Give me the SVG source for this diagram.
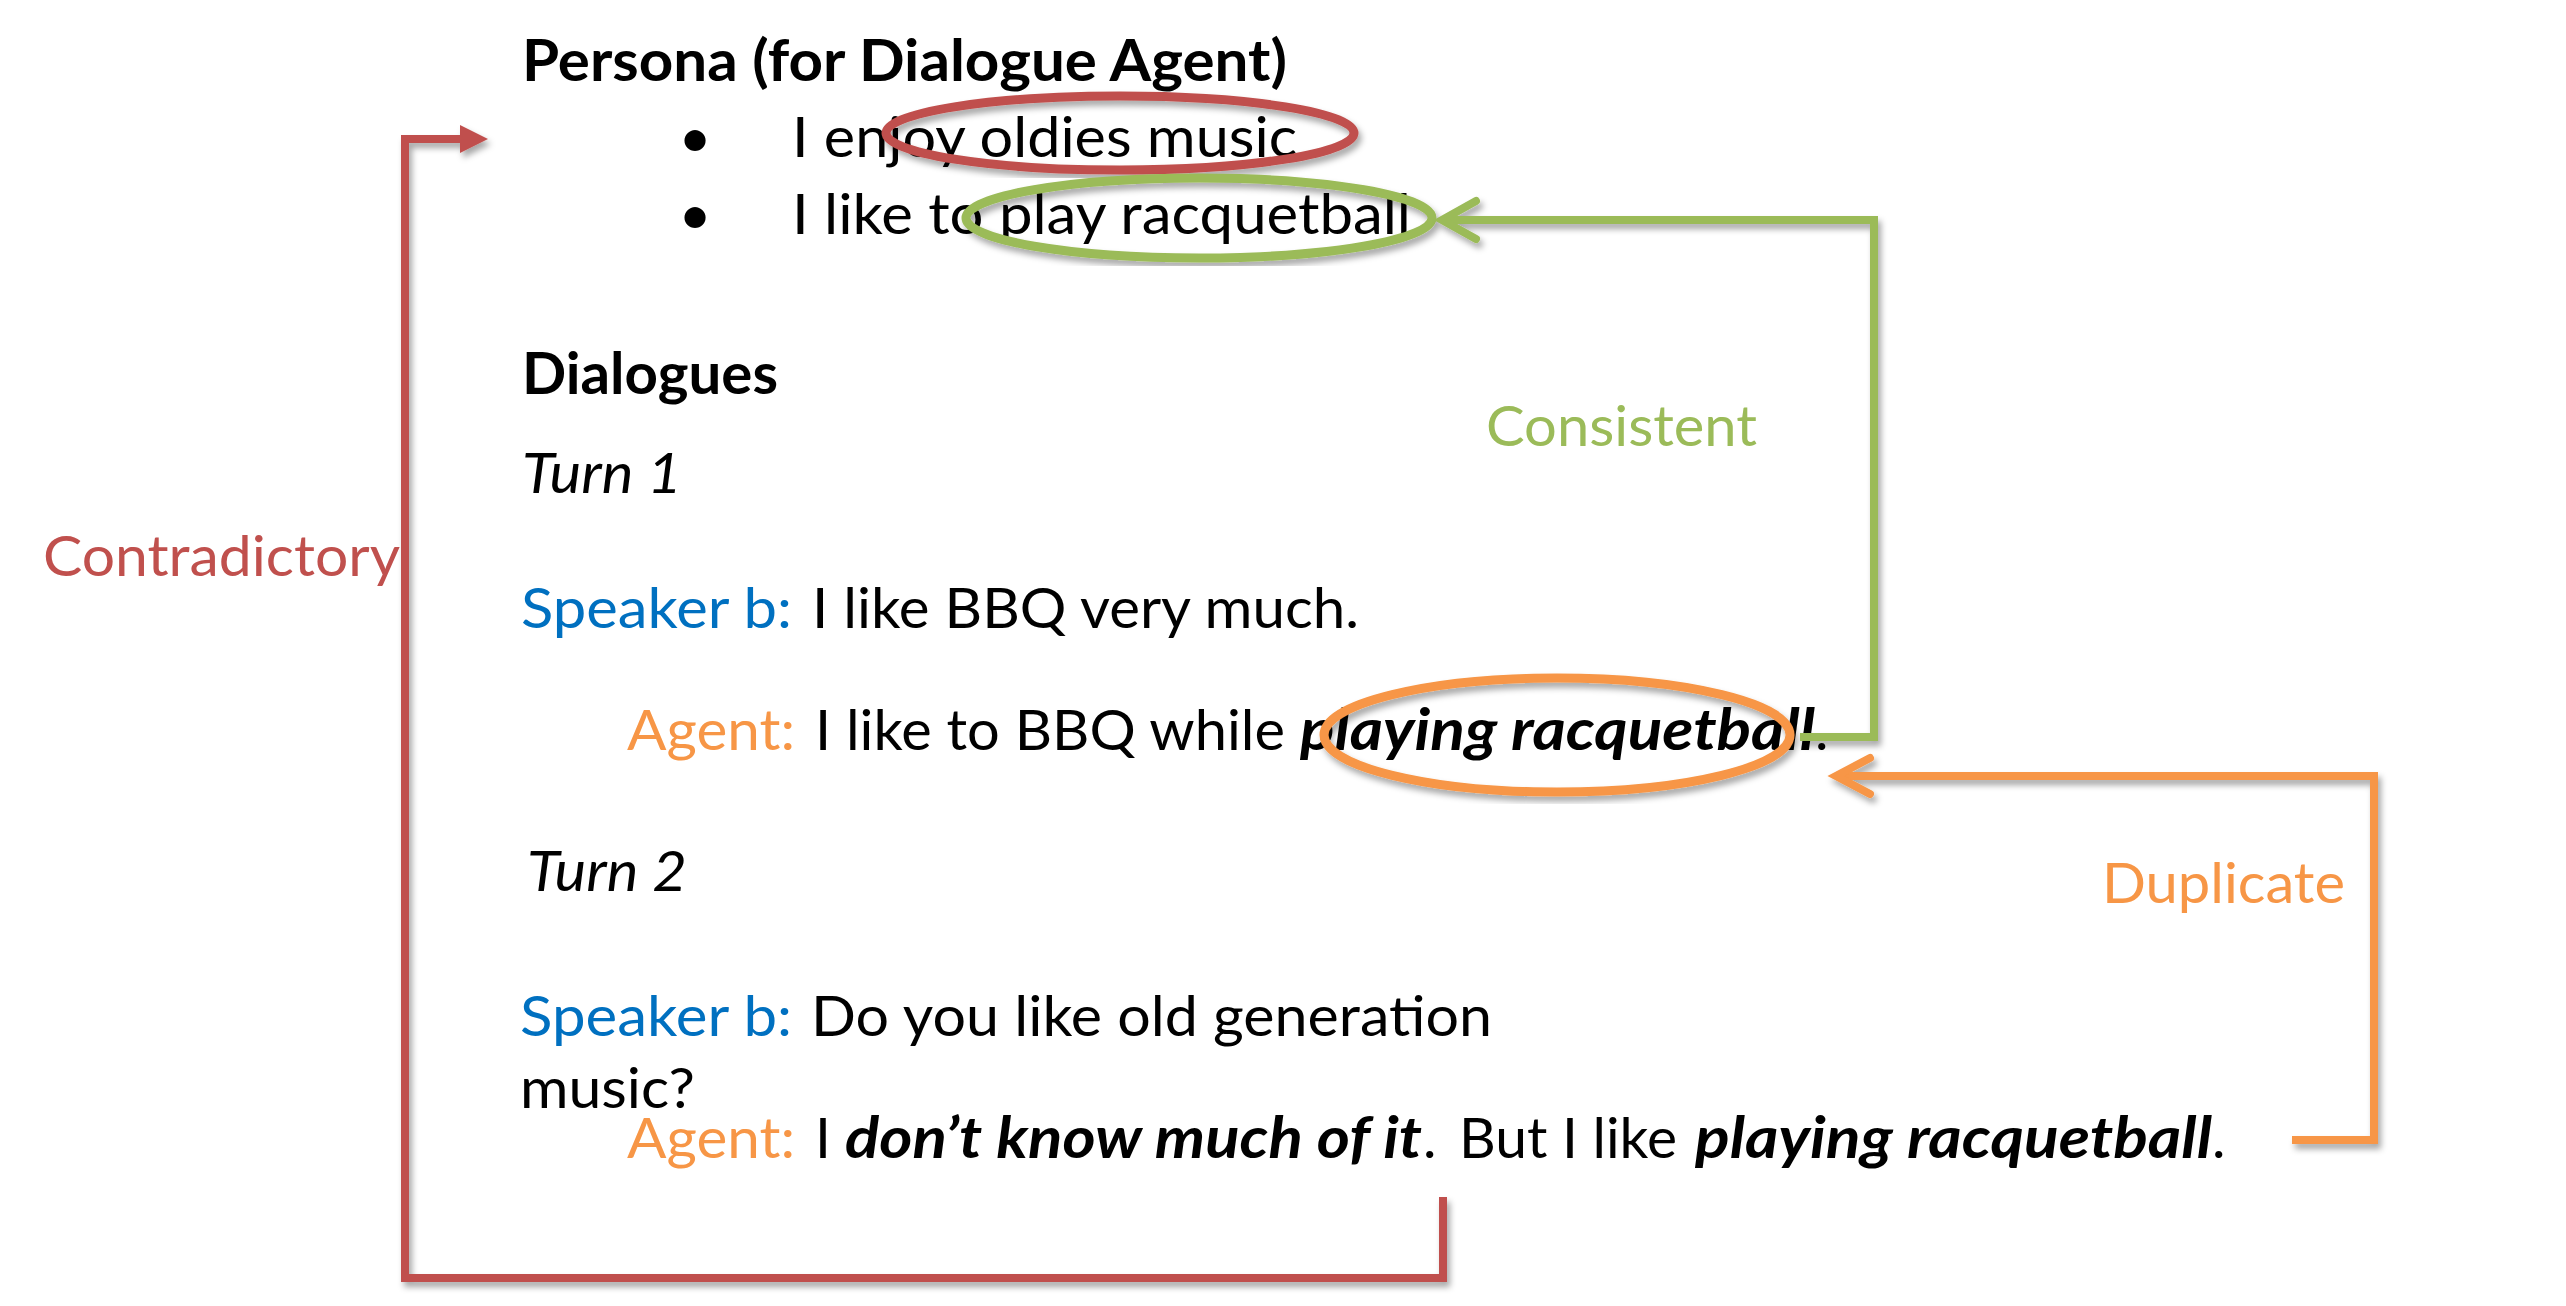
<svg xmlns="http://www.w3.org/2000/svg" width="2566" height="1306" viewBox="0 0 2566 1306">
<style>
text{font-family:Lato,"Liberation Sans","DejaVu Sans",sans-serif;font-size:57px;fill:#000}
.b{font-weight:bold}
.i{font-style:italic}
.bi{font-weight:bold;font-style:italic}
.blue{fill:#0070C0}
.org{fill:#F79646}
.red{fill:#C0504D}
.grn{fill:#9BBB59}
.ell{fill:none;stroke-width:9}
.con{fill:none;stroke-width:8;stroke-linejoin:miter}
</style>
<defs>
<filter id="sh" x="-10%" y="-10%" width="120%" height="120%">
<feDropShadow dx="3" dy="5" stdDeviation="3" flood-color="#000" flood-opacity="0.35"/>
</filter>
<marker id="triR" markerUnits="userSpaceOnUse" markerWidth="30" markerHeight="30" viewBox="0 -15 30 30" refX="0" refY="0" orient="auto" overflow="visible">
<path d="M0,-14 L28,0 L0,14 Z" fill="#C0504D"/>
</marker>
<marker id="chvG" markerUnits="userSpaceOnUse" markerWidth="50" markerHeight="50" viewBox="-45 -25 50 50" refX="0" refY="0" orient="auto" overflow="visible">
<path d="M-34,-19 L0,0 L-34,19" fill="none" stroke="#9BBB59" stroke-width="8" stroke-linecap="round" stroke-linejoin="miter"/>
</marker>
<marker id="chvO" markerUnits="userSpaceOnUse" markerWidth="50" markerHeight="50" viewBox="-45 -25 50 50" refX="0" refY="0" orient="auto" overflow="visible">
<path d="M-34,-18 L0,0 L-34,18" fill="none" stroke="#F79646" stroke-width="8" stroke-linecap="round" stroke-linejoin="miter"/>
</marker>
</defs>
<rect width="2566" height="1306" fill="#fff"/>

<g id="persona">
<text class="b" x="522" y="81" textLength="765" lengthAdjust="spacingAndGlyphs">Persona (for Dialogue Agent)</text>
<text x="695" y="157" text-anchor="middle">•</text>
<text x="792" y="157" textLength="505" lengthAdjust="spacingAndGlyphs">I enjoy oldies music</text>
<text x="695" y="234" text-anchor="middle">•</text>
<text x="792" y="234" textLength="619" lengthAdjust="spacingAndGlyphs">I like to play racquetball</text>
</g>

<g id="dialogues">
<text class="b" x="522" y="394" textLength="256" lengthAdjust="spacingAndGlyphs">Dialogues</text>
</g>

<g id="turn1">
<text class="i" x="522" y="493" textLength="160" lengthAdjust="spacingAndGlyphs">Turn 1</text>
<text y="628"><tspan class="blue" x="521" textLength="271" lengthAdjust="spacingAndGlyphs">Speaker b:</tspan><tspan x="812" textLength="547" lengthAdjust="spacingAndGlyphs">I like BBQ very much.</tspan></text>
<text y="750"><tspan class="org" x="627" textLength="168" lengthAdjust="spacingAndGlyphs">Agent:</tspan><tspan x="815" textLength="470" lengthAdjust="spacingAndGlyphs">I like to BBQ while</tspan><tspan class="bi" x="1300" textLength="515" lengthAdjust="spacingAndGlyphs">playing racquetball</tspan><tspan x="1815">.</tspan></text>
</g>

<g id="turn2">
<text class="i" x="527" y="891" textLength="160" lengthAdjust="spacingAndGlyphs">Turn 2</text>
<text y="1036"><tspan class="blue" x="520" textLength="272" lengthAdjust="spacingAndGlyphs">Speaker b:</tspan><tspan x="811" textLength="681" lengthAdjust="spacingAndGlyphs">Do you like old generation</tspan></text>
<text x="520" y="1108" textLength="175" lengthAdjust="spacingAndGlyphs">music?</text>
<text y="1158"><tspan class="org" x="627" textLength="168" lengthAdjust="spacingAndGlyphs">Agent:</tspan><tspan x="815">I</tspan><tspan class="bi" x="845" textLength="577" lengthAdjust="spacingAndGlyphs">don’t know much of it</tspan><tspan x="1423">.</tspan><tspan x="1459" textLength="218" lengthAdjust="spacingAndGlyphs">But I like</tspan><tspan class="bi" x="1695" textLength="517" lengthAdjust="spacingAndGlyphs">playing racquetball</tspan><tspan x="2212">.</tspan></text>
</g>

<g id="label-contradictory"><text class="red" x="43" y="576" textLength="357" lengthAdjust="spacingAndGlyphs">Contradictory</text></g>
<g id="label-consistent"><text class="grn" x="1486" y="446" textLength="271" lengthAdjust="spacingAndGlyphs">Consistent</text></g>
<g id="label-duplicate"><text class="org" x="2102" y="903" textLength="243" lengthAdjust="spacingAndGlyphs">Duplicate</text></g>

<g id="ellipse-red" filter="url(#sh)"><ellipse class="ell" cx="1120" cy="133" rx="234" ry="37" stroke="#C0504D"/></g>
<g id="ellipse-green" filter="url(#sh)"><ellipse class="ell" cx="1199" cy="218" rx="233" ry="40" stroke="#9BBB59"/></g>
<g id="ellipse-orange" filter="url(#sh)"><ellipse class="ell" cx="1557" cy="735" rx="233" ry="57" stroke="#F79646"/></g>

<g id="connectors" filter="url(#sh)">
<path class="con" d="M1443,1197 L1443,1278 L405,1278 L405,139 L460,139" stroke="#C0504D" marker-end="url(#triR)"/>
<path class="con" d="M1800,737 L1874,737 L1874,220 L1442,220" stroke="#9BBB59" marker-end="url(#chvG)"/>
<path class="con" d="M2292,1140 L2374,1140 L2374,776 L1836,776" stroke="#F79646" marker-end="url(#chvO)"/>
</g>
</svg>
